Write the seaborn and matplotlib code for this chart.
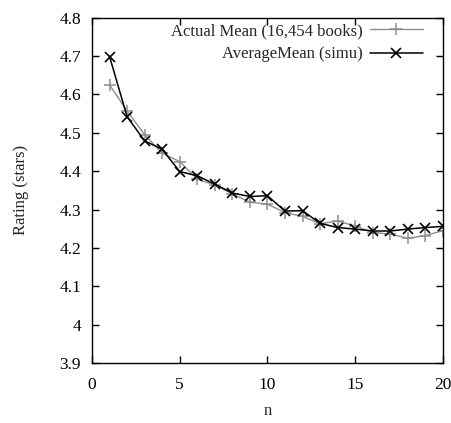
import matplotlib
matplotlib.use("Agg")
import matplotlib.pyplot as plt
import seaborn as sns
import pandas as pd

n = list(range(1, 21))
actual_mean = [4.625, 4.557, 4.495, 4.447, 4.425, 4.379, 4.364, 4.341, 4.319, 4.314,
               4.292, 4.282, 4.263, 4.270, 4.257, 4.240, 4.236, 4.225, 4.232, 4.245]
average_mean = [4.699, 4.542, 4.479, 4.457, 4.399, 4.388, 4.366, 4.343, 4.334, 4.336,
                4.296, 4.297, 4.264, 4.253, 4.249, 4.244, 4.244, 4.249, 4.253, 4.256]
label_actual = "Actual Mean (16,454 books)"
label_avg = "AverageMean (simu)"
xticks = [0, 5, 10, 15, 20]
yticks = [3.9, 4.0, 4.1, 4.2, 4.3, 4.4, 4.5, 4.6, 4.7, 4.8]
yticklabels = ["3.9", "4", "4.1", "4.2", "4.3", "4.4", "4.5", "4.6", "4.7", "4.8"]

sns.set_style("ticks")
plt.rcParams['font.family'] = ['Liberation Serif', 'DejaVu Serif']
plt.rcParams['font.size'] = 12

df = pd.DataFrame({"n": n + n,
                   "rating": actual_mean + average_mean,
                   "series": [label_actual] * len(n) + [label_avg] * len(n)})

fig = plt.figure(figsize=(4.51, 4.23), dpi=100)
ax = fig.add_axes([0.204, 0.142, 0.778, 0.816])

gray = "#8e8e8e"
sns.lineplot(data=df[df.series == label_actual], x="n", y="rating", ax=ax,
             color=gray, marker="+", markersize=9, markeredgewidth=1.1,
             markeredgecolor=gray, linewidth=1.0, label=label_actual)
sns.lineplot(data=df[df.series == label_avg], x="n", y="rating", ax=ax,
             color="black", marker="x", markersize=7, markeredgewidth=1.2,
             markeredgecolor="black", linewidth=1.1, label=label_avg)

ax.set_xlim(0, 20)
ax.set_ylim(3.9, 4.8)
ax.set_xticks(xticks)
ax.set_yticks(yticks)
ax.set_yticklabels(yticklabels)
ax.tick_params(direction="in", top=True, right=True, length=5, width=1,
               labelsize=12.5, colors="black")
ax.tick_params(axis="x", pad=10)
ax.tick_params(axis="y", pad=8)
for s in ax.spines.values():
    s.set_visible(True)
    s.set_linewidth(1.0)
    s.set_color("black")

ax.set_xlabel("n", fontsize=12, labelpad=7)
ax.set_ylabel("Rating (stars)", fontsize=12, labelpad=22)

leg = ax.legend(loc="upper right", bbox_to_anchor=(0.943, 0.985), frameon=False,
                markerfirst=False, handlelength=3.2, handletextpad=0.4,
                labelspacing=0.45, fontsize=12, borderaxespad=0, borderpad=0)

fig.savefig("out.png", dpi=100)
